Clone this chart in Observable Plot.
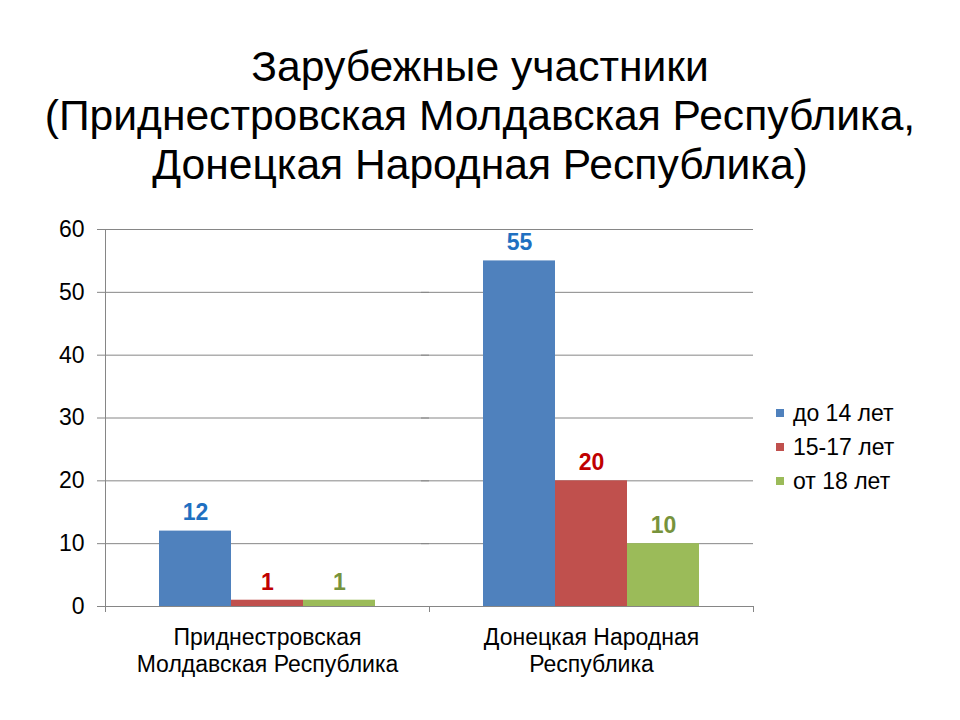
<!DOCTYPE html>
<html><head><meta charset="utf-8">
<script src="https://cdn.jsdelivr.net/npm/d3@7"></script>
<script src="https://cdn.jsdelivr.net/npm/@observablehq/plot@0.6"></script>
<style>
body{margin:0;background:#fff;width:960px;height:720px;position:relative;overflow:hidden;font-family:"Liberation Sans",Arial,sans-serif;}
#title{position:absolute;left:0;top:42px;width:960px;text-align:center;font-size:42.6px;line-height:49px;color:#000;}
#chart{position:absolute;left:0;top:200px;}
#legend{position:absolute;left:776px;top:396px;font-size:23px;color:#000;}
#legend .row{display:flex;align-items:center;height:34px;}
#legend .sw{width:8px;height:8px;margin-right:9px;}
</style>
</head><body>
<div id="title">Зарубежные участники<br>(Приднестровская Молдавская Республика,<br>Донецкая Народная Республика)</div>
<div id="chart"></div>
<div id="legend"></div>
<script>
const categories = ["Приднестровская Молдавская Республика", "Донецкая Народная Республика"];
const categoryLabels = ["Приднестровская\nМолдавская Республика", "Донецкая Народная\nРеспублика"];
const series = ["до 14 лет", "15-17 лет", "от 18 лет"];
const valuesPMR = [12, 1, 1];
const valuesDNR = [55, 20, 10];
const seriesColors = ["#4F81BD", "#C0504D", "#9BBB59"];
const labelColors = ["#1F70C1", "#C00000", "#77933C"];
const yTicks = [0, 10, 20, 30, 40, 50, 60];
const gridColor = "#868686";

const valuesByCategory = [valuesPMR, valuesDNR];
const data = [];
categories.forEach((c, i) => series.forEach((s, j) => data.push({category: c, series: s, value: valuesByCategory[i][j]})));

const W = 960, H = 520, mL = 105, mR = 207, mT = 29, mB = 114;
const halfFacet = (W - mL - mR) / categories.length / 2;

const chart = Plot.plot({
  width: W, height: H,
  marginTop: mT, marginBottom: mB, marginLeft: mL, marginRight: mR,
  style: {fontFamily: "'Liberation Sans', Arial, sans-serif", fontSize: "23px", color: "#000", background: "transparent"},
  fx: {domain: categories, padding: 0, label: null},
  x: {domain: series, paddingInner: 0, paddingOuter: 0.75, axis: null},
  y: {domain: [0, 60], axis: null},
  color: {domain: series, range: seriesColors},
  marks: [
    Plot.ruleY(yTicks, {stroke: gridColor, insetLeft: -8}),
    Plot.axisY({ticks: yTicks, tickSize: 0, tickPadding: 21, label: null, fontSize: 23}),
    Plot.barY(data, {fx: "category", x: "series", y: "value", fill: "series"}),
    Plot.text(data, {fx: "category", x: "series", y: "value", text: d => String(d.value), dy: -18,
      fill: d => labelColors[series.indexOf(d.series)], fontWeight: "bold", fontSize: 23}),
    // vertical axis line (left edge of first group)
    Plot.ruleX([categories[0]], {fx: d => d, x: () => series[1], dx: -halfFacet, y1: () => 60, y2: () => 0, insetBottom: -6, stroke: gridColor}),
    // category separator ticks
    Plot.ruleX([categories[1]], {fx: d => d, x: () => series[1], dx: -halfFacet, y1: () => 0, y2: () => 0, insetBottom: -6, stroke: gridColor}),
    Plot.ruleX([categories[1]], {fx: d => d, x: () => series[1], dx: halfFacet, y1: () => 0, y2: () => 0, insetBottom: -6, stroke: gridColor}),
    Plot.axisFx({anchor: "bottom", tickSize: 0, tickPadding: 20, label: null, lineHeight: 1.15, fontSize: 23,
      tickFormat: d => categoryLabels[categories.indexOf(d)]})
  ]
});
document.getElementById("chart").appendChild(chart);

const legend = document.getElementById("legend");
series.forEach((s, i) => {
  const row = document.createElement("div");
  row.className = "row";
  const sw = document.createElement("span");
  sw.className = "sw";
  sw.style.background = seriesColors[i];
  const t = document.createElement("span");
  t.textContent = s;
  row.appendChild(sw); row.appendChild(t);
  legend.appendChild(row);
});
</script>
</body></html>
